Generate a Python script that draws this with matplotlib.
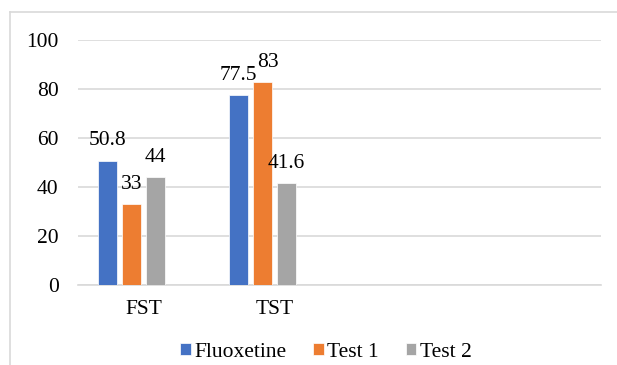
import matplotlib.pyplot as plt
import numpy as np

# chart data
categories = ["FST", "TST", "", ""]
series_names = ["Fluoxetine", "Test 1", "Test 2"]
fluoxetine = [50.8, 77.5]
test1 = [33, 83]
test2 = [44, 41.6]
colors = ["#4472C4", "#ED7D31", "#A5A5A5"]

plt.rcParams['font.family'] = ['Liberation Serif', 'DejaVu Serif']
plt.rcParams['font.size'] = 15.5

fig = plt.figure(figsize=(6.17, 3.65), dpi=100)
ax = fig.add_axes([0.1264, 0.219, 0.848, 0.671])

# outer chart border (runs off the right/bottom edge like the source)
fig.add_artist(plt.Line2D([10 / 617, 10 / 617], [0, 1 - 12 / 365], color="#d9d9d9", lw=1.2))
fig.add_artist(plt.Line2D([10 / 617, 1], [1 - 12 / 365, 1 - 12 / 365], color="#d9d9d9", lw=1.2))

x = np.arange(len(categories))
width = 0.145
step = 0.1836
# four slots per group (last slot empty), so groups sit left of the tick
offsets = (np.arange(4) - 1.5) * step

for i, (name, vals) in enumerate(zip(series_names, [fluoxetine, test1, test2])):
    xs = x[:len(vals)] + offsets[i]
    bars = ax.bar(xs, vals, width, color=colors[i], label=name, zorder=3,
                  edgecolor="white", linewidth=0.5)
    for j, (b, v) in enumerate(zip(bars, vals)):
        # Excel nudged the TST "Test 1" label right so it doesn't hit 77.5
        dx = 4 if (i == 1 and j == 1) else 0
        ax.annotate(f"{v:g}", (b.get_x() + b.get_width() / 2, v),
                    xytext=(dx, 11), textcoords="offset points",
                    ha="center", va="baseline")

ax.set_xlim(-0.5, len(categories) - 0.5)
ax.set_ylim(0, 100)
ax.set_yticks(range(0, 101, 20))
ax.set_xticks(x)
ax.set_xticklabels(categories)
ax.yaxis.grid(True, color="#d9d9d9", lw=1.2, zorder=0)
ax.tick_params(length=0)
ax.tick_params(axis="y", pad=14)
ax.tick_params(axis="x", pad=11)
for s in ["top", "right", "left"]:
    ax.spines[s].set_visible(False)
ax.spines["bottom"].set_color("#d9d9d9")
ax.spines["bottom"].set_linewidth(1.2)

fig.legend(loc="center", bbox_to_anchor=(0.528, 0.035), ncol=3, frameon=False,
           handlelength=0.5, handleheight=0.45, handletextpad=0.15,
           columnspacing=1.25, borderpad=0)

fig.savefig("out.png", dpi=100)
